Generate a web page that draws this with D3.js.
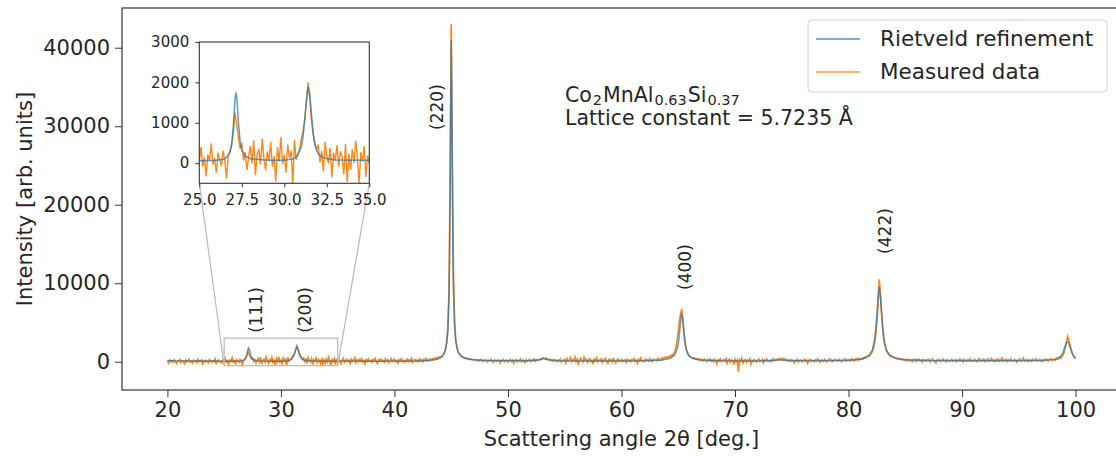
<!DOCTYPE html>
<html>
<head>
<meta charset="utf-8">
<script src="https://cdn.jsdelivr.net/npm/d3@7"></script>
<style>
  body { margin: 0; background: #fff; }
  text { font-family: "DejaVu Sans", sans-serif; fill: #262626; }
</style>
</head>
<body>
<svg id="chart" width="1116" height="456"></svg>
<script>
// ---- Measured XRD pattern: 2θ from 20.0° to 100.0° in 0.1° steps ----
const measuredStart = 20.0;
const measuredStep = 0.1;
const measuredIntensity = [
  // 20°
  90,-160,210,0,140,-70,260,50,-210,120,
  20,290,-90,170,60,-240,230,-30,110,340,
  -50,70,-180,200,30,150,-110,320,0,80,
  240,-270,130,-40,180,40,-150,280,100,-60,
  160,10,350,-200,90,220,-20,60,-140,270,
  // 25°
  30,400,-80,140,-330,210,70,490,-40,130,
  -240,260,80,-70,310,50,-380,170,300,440,
  760,1250,960,640,360,500,60,270,-170,150,
  420,-10,560,-300,210,350,-30,600,120,-180,
  290,60,530,-90,170,-460,400,40,640,-20,
  // 30°
  200,-240,460,120,310,-520,570,80,230,360,
  610,780,1100,1500,2000,1600,1050,700,480,330,
  460,20,300,-200,530,150,0,380,-350,260,
  70,440,-90,290,160,-280,480,-470,230,-160,
  350,0,560,130,-490,270,40,420,-340,190,
  // 35°
  -20,320,90,-250,240,440,-50,160,290,30,
  210,-180,350,70,140,490,-80,230,10,300,
  120,400,-30,180,-230,260,80,350,40,170,
  -60,280,130,410,20,-210,240,100,330,60,
  190,-30,360,90,250,-100,170,400,40,220,
  // 40°
  310,20,160,-160,270,100,390,50,180,-40,
  140,350,10,230,80,440,-30,190,300,60,
  220,20,360,130,270,0,310,170,400,110,
  260,140,350,210,420,280,490,360,580,500,
  640,570,760,930,1180,1580,2580,4180,8700,22500,
  // 45°
  43000,25000,10400,5100,2800,1800,1300,1030,860,700,
  580,520,440,480,360,410,290,350,270,230,
  300,180,260,130,220,80,290,160,30,210,
  140,270,-10,180,100,330,60,-80,230,120,
  40,260,150,-140,190,70,300,10,160,240,
  // 50°
  -30,130,320,50,210,-180,160,280,30,190,
  90,350,0,220,130,-90,270,60,170,310,
  30,200,120,360,70,240,150,300,260,400,
  340,490,400,310,440,270,190,320,130,210,
  60,280,140,0,230,100,340,-30,190,120,
  // 55°
  290,-150,400,80,220,520,-10,260,130,600,
  30,340,-240,210,460,120,-30,570,160,290,
  -70,250,400,60,180,-320,320,140,490,10,
  230,100,360,-90,270,150,440,40,-210,300,
  120,260,-10,380,140,-160,210,350,70,180,
  // 60°
  300,30,170,260,-60,330,100,220,10,280,
  140,390,50,210,-180,290,120,460,70,180,
  10,340,160,250,80,400,190,30,320,230,
  290,150,440,210,360,270,500,380,570,460,
  620,500,710,580,840,760,1030,1300,1800,2700,
  // 65°
  3900,5200,6100,6700,5300,3600,2300,1600,1150,880,
  720,600,510,440,520,360,290,400,210,320,
  160,280,90,340,200,20,260,130,370,60,
  210,-10,300,140,-270,250,100,380,30,180,
  280,60,420,-190,200,330,-30,240,150,-350,
  // 70°
  310,20,200,-1250,260,90,460,-160,170,300,
  -70,230,80,360,-280,190,30,280,140,-40,
  210,350,50,160,280,-140,230,100,340,70,
  180,0,270,120,390,160,240,330,200,410,
  320,280,460,210,360,170,290,100,240,50,
  // 75°
  270,140,-130,210,80,320,10,190,250,-20,
  160,330,70,230,-190,180,300,50,210,120,
  30,280,150,360,100,-40,250,180,70,310,
  140,-10,230,370,110,260,40,190,300,160,
  250,80,330,170,20,290,210,360,120,270,
  // 80°
  190,310,150,380,240,100,330,270,420,210,
  350,280,460,370,520,440,600,720,660,880,
  1050,1300,1700,2500,3500,5200,7300,10500,8900,6600,
  4600,3100,2200,1600,1250,1000,850,680,740,550,
  600,460,510,370,420,290,350,240,310,200,
  // 85°
  270,150,320,90,230,180,20,260,130,300,
  60,210,340,100,190,-50,280,160,70,250,
  130,310,20,200,360,80,170,-120,240,110,
  290,40,180,350,120,230,-10,270,150,60,
  200,320,90,170,280,10,240,140,360,100,
  // 90°
  230,-10,310,160,80,270,130,380,50,190,
  100,300,170,20,250,420,80,210,140,330,
  50,260,150,370,90,180,440,120,230,10,
  290,140,350,70,200,480,100,260,160,320,
  30,240,120,390,170,60,300,210,-40,250,
  // 95°
  150,330,80,220,460,110,190,290,40,260,
  180,70,320,150,240,380,100,210,290,130,
  260,50,200,340,160,280,90,230,370,180,
  250,320,190,410,280,370,500,460,680,900,
  1250,1850,2600,3200,2700,2200,1600,1100,800,600,
  // 100°
  420
];

// ---- Rietveld refinement (2θ, intensity) ----
const refinementAngle = [
  20.0, 21.0, 22.0, 23.0, 24.0, 25.0, 26.0, 26.5, 26.8, 26.9, 27.0, 27.05, 27.1, 27.15, 27.2, 27.25, 27.3, 27.4, 27.5, 27.7, 28.0,
  29.0, 30.0, 30.5, 30.8, 31.0, 31.1, 31.2, 31.3, 31.4, 31.5, 31.6, 31.7, 31.8, 32.0, 32.4, 33.0, 35.0, 38.0, 40.0, 42.0, 43.0,
  43.8, 44.2, 44.4, 44.6, 44.7, 44.8, 44.85, 44.9, 44.95, 45.0, 45.05, 45.1, 45.15, 45.2, 45.3, 45.4, 45.6, 45.8, 46.2, 47.0,
  48.0, 50.0, 52.0, 52.8, 53.2, 53.6, 54.5, 57.0, 60.0, 62.0, 63.5, 64.3, 64.7, 64.9, 65.0, 65.1, 65.2, 65.3, 65.4, 65.5,
  65.6, 65.7, 65.9, 66.3, 67.0, 68.5, 72.0, 73.5, 74.0, 74.5, 77.0, 80.0, 81.2, 81.8, 82.1, 82.25, 82.4, 82.5, 82.6, 82.7,
  82.8, 82.9, 83.0, 83.15, 83.35, 83.7, 84.2, 85.0, 87.0, 90.0, 94.0, 97.0, 98.2, 98.7, 98.9, 99.05, 99.2, 99.3, 99.4,
  99.55, 99.7, 99.85, 100.0
];
const refinementIntensity = [
  120, 110, 100, 90, 80, 60, 70, 100, 250, 450, 900, 1250, 1600, 1750, 1650, 1350, 1000, 550, 320, 180, 110,
  70, 70, 100, 200, 400, 650, 1050, 1550, 1900, 1700, 1200, 750, 450, 220, 120, 80, 70, 70, 75, 100, 160,
  320, 650, 1100, 2300, 3800, 8000, 12500, 20000, 32000, 41000, 35000, 24000, 14500, 9000, 4500, 2600, 1300, 800, 450, 250,
  170, 120, 120, 250, 450, 250, 120, 100, 100, 120, 200, 450, 900, 1600, 2300, 3500, 5000, 6100, 5500, 3900,
  2500, 1600, 800, 400, 230, 140, 110, 150, 260, 150, 110, 150, 350, 800, 1500, 2500, 4000, 6000, 8300, 9500,
  8500, 6300, 4300, 2500, 1400, 750, 400, 240, 150, 120, 120, 150, 300, 700, 1200, 1900, 2450, 2550, 2350,
  1700, 1100, 650, 400
];

// ---- Axes ticks, peak labels and legend entries ----
const xTicks = [20, 30, 40, 50, 60, 70, 80, 90, 100];
const yTicks = [0, 10000, 20000, 30000, 40000];
const insetXTicks = [25.0, 27.5, 30.0, 32.5, 35.0];
const insetYTicks = [0, 1000, 2000, 3000];
const peakLabels = ["(111)", "(200)", "(220)", "(400)", "(422)"];
const peakLabelAngle = [27.78, 32.1, 43.73, 65.58, 83.2];
const peakLabelIntensity = [6590, 6590, 32440, 12060, 16650];
const seriesNames = ["Rietveld refinement", "Measured data"];
const seriesColors = ["#1f77b4", "#ff7f0e"];

const measured = measuredIntensity.map((v, i) => [+(measuredStart + i * measuredStep).toFixed(1), v]);
const refinement = refinementAngle.map((a, i) => [a, refinementIntensity[i]]);

const svg = d3.select("#chart");

// Main plot area
const plot = { left: 122, right: 1121, top: 8, bottom: 390 };
const x = d3.scaleLinear().domain([16, 104]).range([plot.left, plot.right]);
const y = d3.scaleLinear().domain([-3600, 45060]).range([plot.bottom, plot.top]);

svg.append("defs").append("clipPath").attr("id", "mainClip")
  .append("rect").attr("x", plot.left).attr("y", plot.top)
  .attr("width", plot.right - plot.left).attr("height", plot.bottom - plot.top);

const line = d3.line().x(d => x(d[0])).y(d => y(d[1]));
const main = svg.append("g").attr("clip-path", "url(#mainClip)");
main.append("path").datum(measured).attr("d", line)
  .attr("fill", "none").attr("stroke", seriesColors[1]).attr("stroke-width", 1.7).attr("stroke-opacity", 0.95);
main.append("path").datum(refinement).attr("d", line)
  .attr("fill", "none").attr("stroke", seriesColors[0]).attr("stroke-width", 1.5).attr("stroke-opacity", 0.72);

// Axes
const gx = svg.append("g").attr("transform", `translate(0,${plot.bottom})`)
  .call(d3.axisBottom(x).tickValues(xTicks).tickSize(7).tickPadding(5).tickFormat(d3.format("d")));
const gy = svg.append("g").attr("transform", `translate(${plot.left},0)`)
  .call(d3.axisLeft(y).tickValues(yTicks).tickSize(7).tickPadding(5).tickFormat(d3.format("d")));
[gx, gy].forEach(g => {
  g.select(".domain").remove();
  g.selectAll(".tick line").attr("stroke", "#333").attr("stroke-width", 1);
  g.selectAll(".tick text").style("font-size", "21px").attr("fill", "#262626");
});

// Frame
svg.append("rect").attr("x", plot.left).attr("y", plot.top)
  .attr("width", plot.right - plot.left).attr("height", plot.bottom - plot.top)
  .attr("fill", "none").attr("stroke", "#333").attr("stroke-width", 1.2);

// Axis titles
svg.append("text").attr("x", (plot.left + plot.right) / 2).attr("y", 446)
  .attr("text-anchor", "middle").style("font-size", "21px")
  .text("Scattering angle 2θ [deg.]");
svg.append("text").attr("transform", `translate(32,${(plot.top + plot.bottom) / 2}) rotate(-90)`)
  .attr("text-anchor", "middle").style("font-size", "21px")
  .text("Intensity [arb. units]");

// Peak (hkl) labels
peakLabels.forEach((lab, i) => {
  const px = x(peakLabelAngle[i]), py = y(peakLabelIntensity[i]);
  svg.append("text").attr("transform", `translate(${px},${py}) rotate(-90)`)
    .attr("text-anchor", "middle").attr("dominant-baseline", "central")
    .style("font-size", "17px").text(lab);
});

// Composition (with subscripts) and lattice constant
const comp = svg.append("text").attr("x", 565).attr("y", 102).style("font-size", "20.5px");
comp.append("tspan").text("Co");
comp.append("tspan").attr("dx", 1).attr("baseline-shift", "-22%").style("font-size", "14.5px").text("2");
comp.append("tspan").attr("dx", 1).text("MnAl");
comp.append("tspan").attr("dx", 1).attr("baseline-shift", "-22%").style("font-size", "14.5px").text("0.63");
comp.append("tspan").attr("dx", 1).text("Si");
comp.append("tspan").attr("dx", 1).attr("baseline-shift", "-22%").style("font-size", "14.5px").text("0.37");
svg.append("text").attr("x", 565).attr("y", 125).style("font-size", "20.5px")
  .text("Lattice constant = 5.7235 Å");

// Legend
const leg = svg.append("g");
leg.append("rect").attr("x", 808).attr("y", 20).attr("width", 299).attr("height", 72)
  .attr("rx", 4).attr("fill", "#fff").attr("fill-opacity", 0.8)
  .attr("stroke", "#d0d0d0").attr("stroke-width", 1);
seriesNames.forEach((name, i) => {
  const ly = 39 + i * 33;
  leg.append("line").attr("x1", 816).attr("x2", 860).attr("y1", ly).attr("y2", ly)
    .attr("stroke", seriesColors[i]).attr("stroke-width", 1.5).attr("stroke-opacity", 0.8);
  leg.append("text").attr("x", 880).attr("y", ly + 7).style("font-size", "21.5px").text(name);
});

// Zoom indicator in the main axes and connector lines
const inset = { left: 199.3, right: 369.3, top: 42, bottom: 183.3 };
const zoomX = [25, 35], zoomY = [-500, 3000];
svg.append("rect").attr("x", x(zoomX[0])).attr("y", y(zoomY[1]))
  .attr("width", x(zoomX[1]) - x(zoomX[0])).attr("height", y(zoomY[0]) - y(zoomY[1]))
  .attr("fill", "none").attr("stroke", "#b8b8b8").attr("stroke-width", 1.2);
svg.append("line").attr("x1", inset.left).attr("y1", inset.bottom)
  .attr("x2", x(zoomX[0])).attr("y2", y(zoomY[0]))
  .attr("stroke", "#b8b8b8").attr("stroke-width", 1.2);
svg.append("line").attr("x1", inset.right).attr("y1", inset.bottom)
  .attr("x2", x(zoomX[1])).attr("y2", y(zoomY[0]))
  .attr("stroke", "#b8b8b8").attr("stroke-width", 1.2);

// Inset
const xi = d3.scaleLinear().domain(zoomX).range([inset.left, inset.right]);
const yi = d3.scaleLinear().domain(zoomY).range([inset.bottom, inset.top]);
svg.append("rect").attr("x", inset.left).attr("y", inset.top)
  .attr("width", inset.right - inset.left).attr("height", inset.bottom - inset.top)
  .attr("fill", "#fff");
svg.select("defs").append("clipPath").attr("id", "insetClip")
  .append("rect").attr("x", inset.left).attr("y", inset.top)
  .attr("width", inset.right - inset.left).attr("height", inset.bottom - inset.top);
const lineI = d3.line().x(d => xi(d[0])).y(d => yi(d[1]));
const ins = svg.append("g").attr("clip-path", "url(#insetClip)");
ins.append("path").datum(measured.filter(d => d[0] >= 24.5 && d[0] <= 35.5)).attr("d", lineI)
  .attr("fill", "none").attr("stroke", seriesColors[1]).attr("stroke-width", 1.4).attr("stroke-opacity", 0.95);
ins.append("path").datum(refinement.filter(d => d[0] >= 24 && d[0] <= 36)).attr("d", lineI)
  .attr("fill", "none").attr("stroke", seriesColors[0]).attr("stroke-width", 1.5).attr("stroke-opacity", 0.72);

const gxi = svg.append("g").attr("transform", `translate(0,${inset.bottom})`)
  .call(d3.axisBottom(xi).tickValues(insetXTicks).tickSize(4).tickPadding(7).tickFormat(d3.format(".1f")));
const gyi = svg.append("g").attr("transform", `translate(${inset.left},0)`)
  .call(d3.axisLeft(yi).tickValues(insetYTicks).tickSize(4).tickPadding(6).tickFormat(d3.format("d")));
[gxi, gyi].forEach(g => {
  g.select(".domain").remove();
  g.selectAll(".tick line").attr("stroke", "#333").attr("stroke-width", 1);
  g.selectAll(".tick text").style("font-size", "15px").attr("fill", "#262626");
});
svg.append("rect").attr("x", inset.left).attr("y", inset.top)
  .attr("width", inset.right - inset.left).attr("height", inset.bottom - inset.top)
  .attr("fill", "none").attr("stroke", "#333").attr("stroke-width", 1.1);
</script>
</body>
</html>
